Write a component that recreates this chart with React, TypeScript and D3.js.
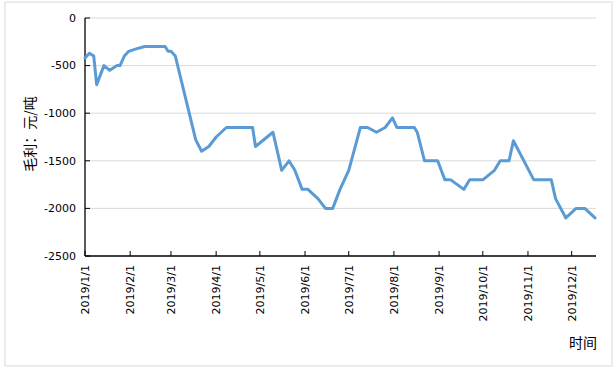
import React from "react";
import * as d3 from "d3";

const dates = [
  "2019-01-01", "2019-01-04", "2019-01-07", "2019-01-09", "2019-01-14", "2019-01-18",
  "2019-01-23", "2019-01-25", "2019-01-28", "2019-01-31", "2019-02-04", "2019-02-11",
  "2019-02-25", "2019-02-27", "2019-03-01", "2019-03-04", "2019-03-18", "2019-03-22",
  "2019-03-27", "2019-04-01", "2019-04-08", "2019-04-26", "2019-04-28", "2019-05-10",
  "2019-05-16", "2019-05-21", "2019-05-25", "2019-05-30", "2019-06-03", "2019-06-10",
  "2019-06-15", "2019-06-20", "2019-06-25", "2019-07-01", "2019-07-09", "2019-07-14",
  "2019-07-20", "2019-07-26", "2019-07-31", "2019-08-03", "2019-08-15", "2019-08-17",
  "2019-08-22", "2019-08-31", "2019-09-05", "2019-09-09", "2019-09-18", "2019-09-22",
  "2019-10-01", "2019-10-09", "2019-10-13", "2019-10-19", "2019-10-22", "2019-11-05",
  "2019-11-17", "2019-11-20", "2019-11-27", "2019-12-04", "2019-12-10", "2019-12-17",
];
const values = [
  -420, -370, -400, -700, -500, -550,
  -500, -500, -400, -350, -330, -300,
  -300, -350, -350, -400, -1280, -1400,
  -1350, -1250, -1150, -1150, -1350, -1200,
  -1600, -1500, -1600, -1800, -1800, -1900,
  -2000, -2000, -1800, -1600, -1150, -1150,
  -1200, -1150, -1050, -1150, -1150, -1200,
  -1500, -1500, -1700, -1700, -1800, -1700,
  -1700, -1600, -1500, -1500, -1290, -1700,
  -1700, -1900, -2100, -2000, -2000, -2100,
];
const yTicks = [0, -500, -1000, -1500, -2000, -2500];
const xTickDates = [
  "2019-01-01", "2019-02-01", "2019-03-01", "2019-04-01", "2019-05-01", "2019-06-01",
  "2019-07-01", "2019-08-01", "2019-09-01", "2019-10-01", "2019-11-01", "2019-12-01",
];
const yTitle = "毛利：元/吨";
const xTitle = "时间";

const W = 616;
const H = 374;
const left = 85;
const right = 595;
const top = 18;
const bottom = 256;

export default function App() {
  const parse = d3.utcParse("%Y-%m-%d");
  const fmt = d3.utcFormat("%Y/%-m/%-d");
  const pts = dates.map((d, i) => ({ d: parse(d) as Date, v: values[i] }));
  const x = d3
    .scaleUtc()
    .domain([pts[0].d, pts[pts.length - 1].d])
    .range([left, right]);
  const y = d3.scaleLinear().domain([-2500, 0]).range([bottom, top]);
  const line = d3
    .line<{ d: Date; v: number }>()
    .x((p) => x(p.d))
    .y((p) => y(p.v));
  const xt = xTickDates.map((s) => parse(s) as Date);
  const tickFont = "'DejaVu Sans', Verdana, sans-serif";
  const cjk = "'Noto Sans CJK SC', sans-serif";

  return (
    <svg
      width={W}
      height={H}
      style={{ position: "absolute", left: 0, top: 0, background: "#fff" }}
    >
      <rect x={5} y={2} width={607} height={364} fill="#fff" stroke="#d9d9d9" strokeWidth={1} />
      {yTicks.map((t) => (
        <g key={t}>
          {t !== -2500 && (
            <line x1={left} x2={596} y1={y(t)} y2={y(t)} stroke="#d9d9d9" strokeWidth={1} />
          )}
          <line x1={left} x2={left + 5} y1={y(t)} y2={y(t)} stroke="#000" strokeWidth={1} />
          <text
            x={76}
            y={y(t)}
            dy="0.35em"
            textAnchor="end"
            fontFamily={tickFont}
            fontSize={11}
            fill="#000"
          >
            {t}
          </text>
        </g>
      ))}
      <line x1={left} x2={left} y1={top} y2={bottom} stroke="#000" strokeWidth={1.3} />
      <line x1={left} x2={596} y1={bottom} y2={bottom} stroke="#000" strokeWidth={1.3} />
      {xt.map((d, i) => (
        <g key={i}>
          <line x1={x(d)} x2={x(d)} y1={bottom} y2={bottom - 5} stroke="#000" strokeWidth={1} />
          <text
            transform={`translate(${x(d)},${bottom + 9}) rotate(-90)`}
            textAnchor="end"
            dy="0.35em"
            fontFamily={tickFont}
            fontSize={11}
            fill="#000"
          >
            {fmt(d)}
          </text>
        </g>
      ))}
      <path
        d={line(pts) || ""}
        fill="none"
        stroke="#5B9BD5"
        strokeWidth={3}
        strokeLinejoin="round"
        strokeLinecap="round"
      />
      <text
        transform={`translate(30,134) rotate(-90)`}
        textAnchor="middle"
        dy="0.35em"
        fontFamily={cjk}
        fontSize={14}
        fill="#000"
      >
        {yTitle}
      </text>
      <text
        x={597}
        y={343}
        dy="0.35em"
        textAnchor="end"
        fontFamily={cjk}
        fontSize={14}
        fill="#000"
      >
        {xTitle}
      </text>
    </svg>
  );
}
